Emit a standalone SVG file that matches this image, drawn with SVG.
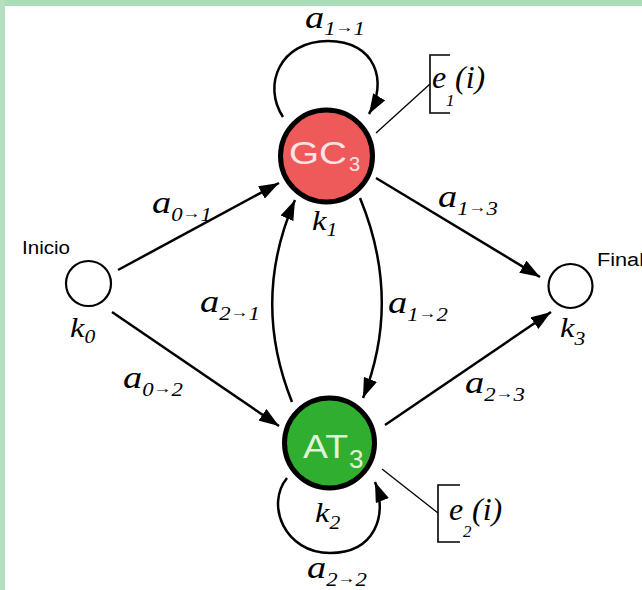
<svg xmlns="http://www.w3.org/2000/svg" width="642" height="590" viewBox="0 0 642 590">
<style>
.edge{fill:none;stroke:#000;stroke-width:2.5;marker-end:url(#ah)}
.lead{fill:none;stroke:#000;stroke-width:1.3}
.brk{fill:none;stroke:#000;stroke-width:1.6}
.it{font-family:"Liberation Serif","Times New Roman",serif;font-style:italic;fill:#000}
.sans{font-family:"Liberation Sans",Arial,sans-serif}
.small{fill:#fff;stroke:#000;stroke-width:2.2}
.sub{font-size:19px}
.arr{font-size:15px;font-style:normal;font-weight:bold}
</style>
<defs>
<marker id="ah" markerUnits="userSpaceOnUse" markerWidth="22" markerHeight="14" refX="20" refY="7" orient="auto">
<path d="M0,0 L20,7 L0,14 Z" fill="#000"/>
</marker>
</defs>
<rect x="0" y="0" width="642" height="590" fill="#fff"/>
<rect x="0" y="0" width="642" height="6" fill="#aadcb6"/>
<rect x="0" y="0" width="5" height="590" fill="#b4e0c0"/>

<g id="connectors">
<path class="edge" d="M118,270 L279,183"/>
<path class="edge" d="M112,312 L279,426"/>
<path class="edge" d="M376,178 L540,277"/>
<path class="edge" d="M385,425 L551,312"/>
<path class="edge" d="M360,198 Q402,300 363,398"/>
<path class="edge" d="M292,402 Q251,300 295,200"/>
<path class="edge" d="M283,117 C262,85 280,41 328,41 C376,41 388,82 369,114"/>
<path class="edge" d="M287,478 C265,505 285,553 330,553 C375,553 388,515 375,482"/>
</g>

<g id="edge-labels" class="it">
<text transform="translate(305 28) scale(1.2 1)" font-size="32">a<tspan class="sub" dy="7">1</tspan><tspan class="arr" dy="-3">→</tspan><tspan class="sub" dy="3">1</tspan></text>
<text transform="translate(152 213) scale(1.2 1)" font-size="32">a<tspan class="sub" dy="8">0</tspan><tspan class="arr" dy="-3">→</tspan><tspan class="sub" dy="3">1</tspan></text>
<text transform="translate(123 388) scale(1.2 1)" font-size="32">a<tspan class="sub" dy="8">0</tspan><tspan class="arr" dy="-3">→</tspan><tspan class="sub" dy="3">2</tspan></text>
<text transform="translate(200 312) scale(1.2 1)" font-size="32">a<tspan class="sub" dy="8">2</tspan><tspan class="arr" dy="-3">→</tspan><tspan class="sub" dy="3">1</tspan></text>
<text transform="translate(438 207) scale(1.2 1)" font-size="32">a<tspan class="sub" dy="8">1</tspan><tspan class="arr" dy="-3">→</tspan><tspan class="sub" dy="3">3</tspan></text>
<text transform="translate(388 313) scale(1.2 1)" font-size="32">a<tspan class="sub" dy="8">1</tspan><tspan class="arr" dy="-3">→</tspan><tspan class="sub" dy="3">2</tspan></text>
<text transform="translate(465 393) scale(1.2 1)" font-size="32">a<tspan class="sub" dy="8">2</tspan><tspan class="arr" dy="-3">→</tspan><tspan class="sub" dy="3">3</tspan></text>
<text transform="translate(307 578) scale(1.2 1)" font-size="32">a<tspan class="sub" dy="8">2</tspan><tspan class="arr" dy="-3">→</tspan><tspan class="sub" dy="3">2</tspan></text>
</g>

<g id="node-k0">
<circle class="small" cx="88.5" cy="283.5" r="22.5"/>
<text class="sans" x="22" y="254" font-size="18" textLength="48" lengthAdjust="spacingAndGlyphs">Inicio</text>
<text class="it" transform="translate(70 337) scale(1.2 1)" font-size="27">k<tspan font-size="18" dy="6">0</tspan></text>
</g>

<g id="node-k3">
<circle class="small" cx="570.5" cy="286" r="22"/>
<text class="sans" x="597" y="266" font-size="18" textLength="47" lengthAdjust="spacingAndGlyphs">Final</text>
<text class="it" transform="translate(560 337) scale(1.2 1)" font-size="27">k<tspan font-size="18" dy="8">3</tspan></text>
</g>

<g id="node-gc3">
<circle cx="326.5" cy="156" r="46" fill="#ee5a5a" stroke="#000" stroke-width="5"/>
<text class="sans" x="289" y="164" font-size="31" fill="#fbe4e4" textLength="58" lengthAdjust="spacingAndGlyphs">GC</text>
<text class="sans" x="349" y="171" font-size="20" fill="#fbe4e4">3</text>
<text class="it" transform="translate(312 230) scale(1.2 1)" font-size="27">k<tspan font-size="18" dy="6">1</tspan></text>
</g>

<g id="node-at3">
<circle cx="329.5" cy="443" r="45" fill="#2fae2f" stroke="#000" stroke-width="5"/>
<text class="sans" x="303" y="458" font-size="33" fill="#dff3d8" textLength="45" lengthAdjust="spacingAndGlyphs">AT</text>
<text class="sans" x="349" y="468" font-size="26" fill="#dff3d8">3</text>
<text class="it" transform="translate(315 522) scale(1.2 1)" font-size="27">k<tspan font-size="18" dy="7">2</tspan></text>
</g>

<g id="emission-1">
<path class="lead" d="M376,133 L430,84"/>
<polyline class="brk" points="450,55 430,55 430,113 450,113"/>
<text class="it" font-size="32"><tspan x="432" y="88">e</tspan><tspan x="446" y="106" font-size="17">1</tspan><tspan x="455" y="88">(i)</tspan></text>
</g>

<g id="emission-2">
<path class="lead" d="M382,469 L438,513"/>
<polyline class="brk" points="460,485 438,485 438,542 460,542"/>
<text class="it" font-size="32"><tspan x="449" y="520">e</tspan><tspan x="463" y="537" font-size="17">2</tspan><tspan x="472" y="520">(i)</tspan></text>
</g>
</svg>
